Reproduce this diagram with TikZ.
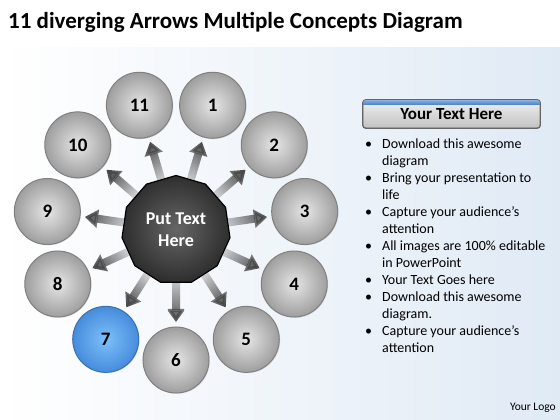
\documentclass[tikz,border=0pt]{standalone}
\usepackage{fontspec}
\setmainfont{Carlito}
\usetikzlibrary{positioning}
\usetikzlibrary{calc}
\usetikzlibrary{shapes.geometric}
\usetikzlibrary{fadings}
\usetikzlibrary{shadows}
\usetikzlibrary{arrows.meta}

\definecolor{ballblue}{RGB}{125,192,250}
\definecolor{balledge}{RGB}{70,140,220}
\definecolor{stripblue}{RGB}{70,130,200}
\definecolor{paleblue}{RGB}{224,234,245}

\tikzfading[name = arrowfade, left color = transparent!75, right color = transparent!0]

\tikzset{
	ball/.style = {circle, minimum size = 66pt, inner sep = 0pt, draw = black!50, line width = 1pt, inner color = black!10, outer color = black!38, font = \fontsize{19}{19}\selectfont\bfseries, drop shadow = {opacity = 0.25, shadow xshift = 0.8pt, shadow yshift = -0.8pt}},
	blueball/.style = {ball, inner color = ballblue, outer color = balledge, draw = balledge!80!black},
	hub/.style = {regular polygon, regular polygon sides = 11, minimum size = 109pt, inner sep = 0pt, draw = black, line width = 1.2pt, inner color = black!60, outer color = black!82, text = white, font = \fontsize{18}{22}\selectfont\bfseries, align = center},
	spoke/.style = {line width = 8pt, black!72, -{Triangle[width = 18pt, length = 13pt]}},
	header/.style = {rectangle, rounded corners = 3pt, minimum width = 177pt, minimum height = 28pt, top color = black!6, bottom color = black!24, draw = black!60, line width = 0.8pt, font = \fontsize{17}{17}\selectfont\bfseries},
}

\begin{document}
\begin{tikzpicture}[x = 1pt, y = 1pt]
	\fill [white] (0, 0) rectangle (560, 420);
	\shade [left color = white, right color = paleblue] (0, 0) rectangle (560, 372);
	\useasboundingbox (0, 0) rectangle (560, 420);
	\node [anchor = base west, inner sep = 0pt, font = \fontsize{23}{23}\selectfont\bfseries] (title) at (8, 391) {11 diverging Arrows Multiple Concepts Diagram};
	\node [hub] (hub) at (176, 190) {Put Text\\Here};
	\foreach \k/\look in {1/ball, 2/ball, 3/ball, 4/ball, 5/ball, 6/ball, 7/blueball, 8/ball, 9/ball, 10/ball, 11/ball} {
		\pgfmathsetmacro{\ang}{106.36 - 32.727 * \k}
		\node [\look] (c\k) at ($(hub.center) + (\ang:130)$) {\k};
	}
	\foreach \k in {1, ..., 11} {
		\pgfmathsetmacro{\ang}{106.36 - 32.727 * \k}
		\draw [spoke, path fading = arrowfade, fading angle = \ang] ($(hub.center)!53pt!(c\k)$) -- ($(hub.center)!92pt!(c\k)$);
	}
	\node [header] (head) at (451.5, 306) {Your Text Here};
	\begin{scope}
		\clip [rounded corners = 3pt] (head.south west) rectangle (head.north east);
		\shade [top color = stripblue!60!white, bottom color = stripblue] ([yshift = -5pt] head.north west) rectangle (head.north east);
	\end{scope}
	\draw [rounded corners = 3pt, black!60, line width = 0.8pt] (head.south west) rectangle (head.north east);
	\node [anchor = north west, inner sep = 0pt, font = \fontsize{14}{17}\selectfont] (list) at (365, 284) {%
		\begin{tabular}{@{}l@{\hspace{10pt}}l@{}}
			\textbullet & Download this awesome\\
			& diagram\\
			\textbullet & Bring your presentation to\\
			& life\\
			\textbullet & Capture your audience’s\\
			& attention\\
			\textbullet & All images are 100\% editable\\
			& in PowerPoint\\
			\textbullet & Your Text Goes here\\
			\textbullet & Download this awesome\\
			& diagram.\\
			\textbullet & Capture your audience’s\\
			& attention
		\end{tabular}};
	\node [anchor = base east, inner sep = 0pt, font = \fontsize{11.5}{11.5}\selectfont] (logo) at (556, 9) {Your Logo};
\end{tikzpicture}
\end{document}
